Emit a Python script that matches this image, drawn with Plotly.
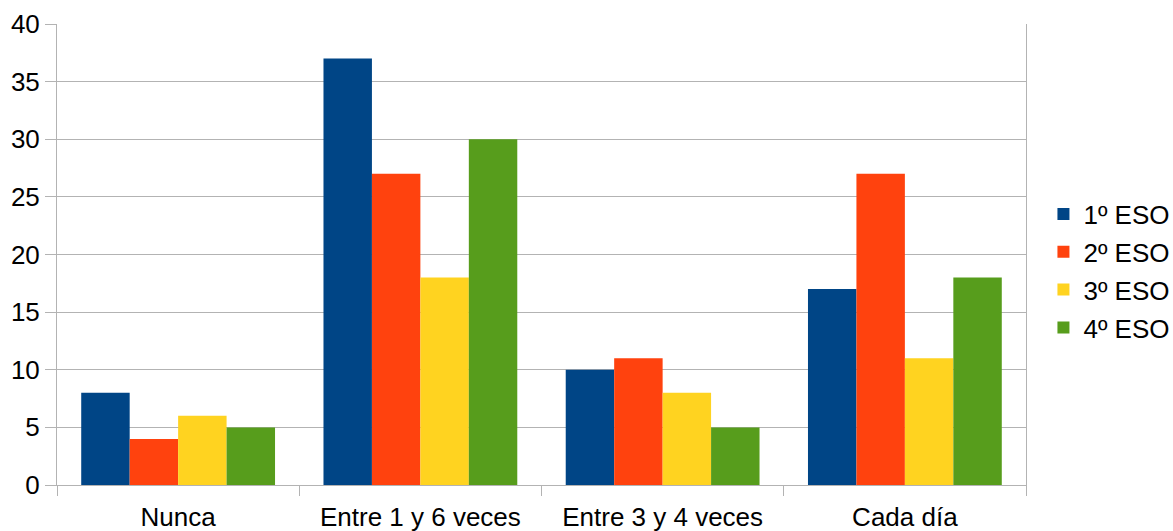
import plotly.graph_objects as go

categories = ["Nunca", "Entre 1 y 6 veces", "Entre 3 y 4 veces", "Cada día"]
series_names = ["1º ESO", "2º ESO", "3º ESO", "4º ESO"]
eso1 = [8, 37, 10, 17]
eso2 = [4, 27, 11, 27]
eso3 = [6, 18, 8, 11]
eso4 = [5, 30, 5, 18]
colors = ["#004586", "#ff420e", "#ffd320", "#579d1c"]

fig = go.Figure()
for name, vals, c in zip(series_names, [eso1, eso2, eso3, eso4], colors):
    fig.add_trace(go.Bar(x=categories, y=vals, name=name, legendgroup=name,
                         marker=dict(color=c, line=dict(width=0))))

fig.update_layout(
    width=1173, height=531,
    margin=dict(l=57, r=147, t=24, b=46, autoexpand=False),
    barmode="group", bargap=0.2, bargroupgap=0,
    plot_bgcolor="white", paper_bgcolor="white",
    font=dict(family="Liberation Sans", size=26, color="black"),
    legend=dict(x=1.018, xanchor="left", y=0.464, yanchor="middle",
                font=dict(size=26), tracegroupgap=1, traceorder="grouped"),
    xaxis=dict(showgrid=False, showline=True, linecolor="#b3b3b3", linewidth=1,
               ticks="outside", tickson="boundaries", ticklen=10, tickcolor="#b3b3b3",
               ticklabelstandoff=9),
    yaxis=dict(range=[0, 40], dtick=5, showgrid=True, gridcolor="#b3b3b3", gridwidth=1,
               showline=True, mirror=True, linecolor="#b3b3b3", linewidth=1,
               ticks="outside", ticklen=11, tickcolor="#b3b3b3", zeroline=False),
)
fig.write_html("out.html")
